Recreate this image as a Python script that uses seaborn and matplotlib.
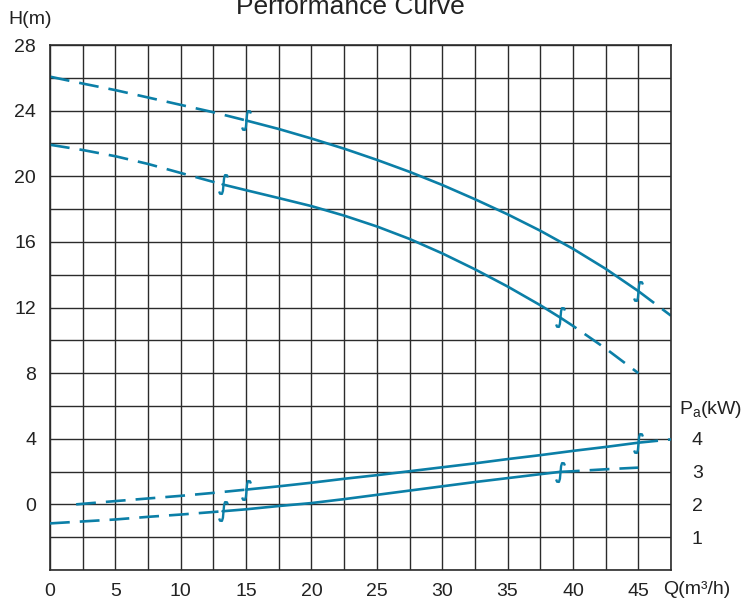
import numpy as np
import matplotlib
matplotlib.use("Agg")
import matplotlib.pyplot as plt
from matplotlib.path import Path
from matplotlib.transforms import blended_transform_factory
import seaborn as sns

# Head curves, H (m) against flow Q (m³/h)
flow_a = [0, 2.5, 5, 7.5, 10, 12.5, 15, 17.5, 20, 22.5, 25, 27.5, 30, 32.5, 35, 37.5, 40, 42.5, 45, 47.5]
head_a = [26.07, 25.65, 25.25, 24.8, 24.35, 23.9, 23.4, 22.88, 22.3, 21.68, 21.0, 20.27, 19.47, 18.6, 17.68, 16.68, 15.58, 14.36, 13.0, 11.5]

flow_b = [0, 2.5, 5, 7.5, 10, 13.2, 15, 17.5, 20, 22.5, 25, 27.5, 30, 32.5, 35, 37.5, 39, 40, 42.5, 45]
head_b = [21.92, 21.6, 21.22, 20.75, 20.2, 19.5, 19.15, 18.67, 18.18, 17.6, 16.94, 16.18, 15.3, 14.33, 13.28, 12.14, 11.4, 10.88, 9.5, 8.0]

# Shaft power curves, Pa (kW)
flow_pa = [2, 5, 7.5, 10, 12.5, 15, 17.5, 20, 22.5, 25, 27.5, 30, 32.5, 35, 37.5, 40, 42.5, 45, 47.5]
power_a = [2.0, 2.1, 2.18, 2.26, 2.35, 2.45, 2.55, 2.66, 2.78, 2.89, 3.01, 3.13, 3.25, 3.38, 3.5, 3.63, 3.75, 3.88, 3.98]

flow_pb = [0, 2.5, 5, 7.5, 10, 13.2, 15, 17.5, 20, 22.5, 25, 27.5, 30, 32.5, 35, 37.5, 39, 40, 42.5, 45]
power_b = [1.42, 1.48, 1.54, 1.62, 1.69, 1.79, 1.85, 1.95, 2.04, 2.16, 2.29, 2.42, 2.55, 2.68, 2.8, 2.92, 2.99, 3.01, 3.07, 3.12]

# Limits of the recommended operating range for each impeller
range_a = [15, 45]
range_b = [13.2, 39]

q_ticks = [0, 5, 10, 15, 20, 25, 30, 35, 40, 45]
h_ticks = [0, 4, 8, 12, 16, 20, 24, 28]
p_ticks = [1, 2, 3, 4]

sns.set_theme(style="white")
plt.rcParams["font.family"] = ["Liberation Sans", "DejaVu Sans"]
plt.rcParams["text.color"] = "#222222"

CURVE = "#0b7fa7"
GRID = "#2b2b2b"
TXT = "#222222"
DASH = (0, (7.5, 3.8))
LW = 1.9

# Small integral-sign glyph marking the ends of the operating range
_bv = [(-0.45, -0.72), (-0.36, -0.95), (-0.16, -0.97), (-0.06, -0.65), (0.0, 0.0),
       (0.06, 0.65), (0.16, 0.97), (0.36, 0.95), (0.45, 0.72)]
BREAK = Path(_bv, [Path.MOVETO] + [Path.LINETO] * (len(_bv) - 1))

fig = plt.figure(figsize=(7.45, 6.03), dpi=100)
ax = fig.add_axes([50 / 745, 33 / 603, 621 / 745, 525 / 603])
ax.set_xlim(0, 47.5)
ax.set_ylim(-4, 28)
ax.set_xticks(q_ticks)
ax.set_xticks(np.arange(0, 47.6, 2.5), minor=True)
ax.set_yticks(h_ticks)
ax.set_yticks(np.arange(-4, 28.1, 2), minor=True)
ax.grid(True, which="both", color=GRID, lw=1.0)
ax.tick_params(which="both", length=0)
ax.tick_params(axis="x", pad=9, labelsize=14, labelcolor=TXT)
ax.tick_params(axis="y", pad=10, labelsize=14, labelcolor=TXT)
for s in ax.spines.values():
    s.set_color(GRID)
    s.set_linewidth(1.2)

pax = ax.twinx()
pax.set_ylim(0, 16)
pax.set_yticks(p_ticks)
pax.tick_params(length=0, pad=15, labelsize=14, labelcolor=TXT)
pax.grid(False)
for s in pax.spines.values():
    s.set_visible(False)


def draw_curve(axis, q, v, limits):
    q = np.asarray(q, dtype=float)
    v = np.asarray(v, dtype=float)
    lo, hi = limits
    parts = [(q <= lo, DASH), ((q >= lo) & (q <= hi), "-"), (q >= hi, DASH)]
    for mask, ls in parts:
        if mask.sum() >= 2:
            sns.lineplot(x=q[mask], y=v[mask], ax=axis, color=CURVE, lw=LW,
                         linestyle=ls, sort=False, estimator=None)
    idx = [int(np.argmin(np.abs(q - b))) for b in limits]
    axis.plot(q[idx], v[idx], ls="none", marker=BREAK, ms=13.5, mew=1.7,
              mec=CURVE, mfc="none")


draw_curve(ax, flow_a, head_a, range_a)
draw_curve(ax, flow_b, head_b, range_b)
draw_curve(pax, flow_pa, power_a, range_a)
draw_curve(pax, flow_pb, power_b, range_b)
ax.set_xlabel("")
ax.set_ylabel("")
pax.set_xlabel("")
pax.set_ylabel("")

fig.text(350 / 745, 1 - 14 / 603, "Performance Curve", fontsize=19,
         ha="center", va="baseline", color=TXT)
fig.text(8 / 745, 1 - 19 / 603, "H(m)", fontsize=14, ha="left", va="center", color=TXT)
fig.text(663 / 745, 1 - 589 / 603, "Q(m³/h)", fontsize=14, ha="left", va="center", color=TXT)
tr = blended_transform_factory(pax.transAxes, pax.transData)
pax.text(1 + 8 / 621, 4.9, r"P$_{\mathregular{a}}$(kW)", transform=tr, fontsize=14,
         ha="left", va="center", color=TXT)

fig.savefig("out.png", dpi=100)
